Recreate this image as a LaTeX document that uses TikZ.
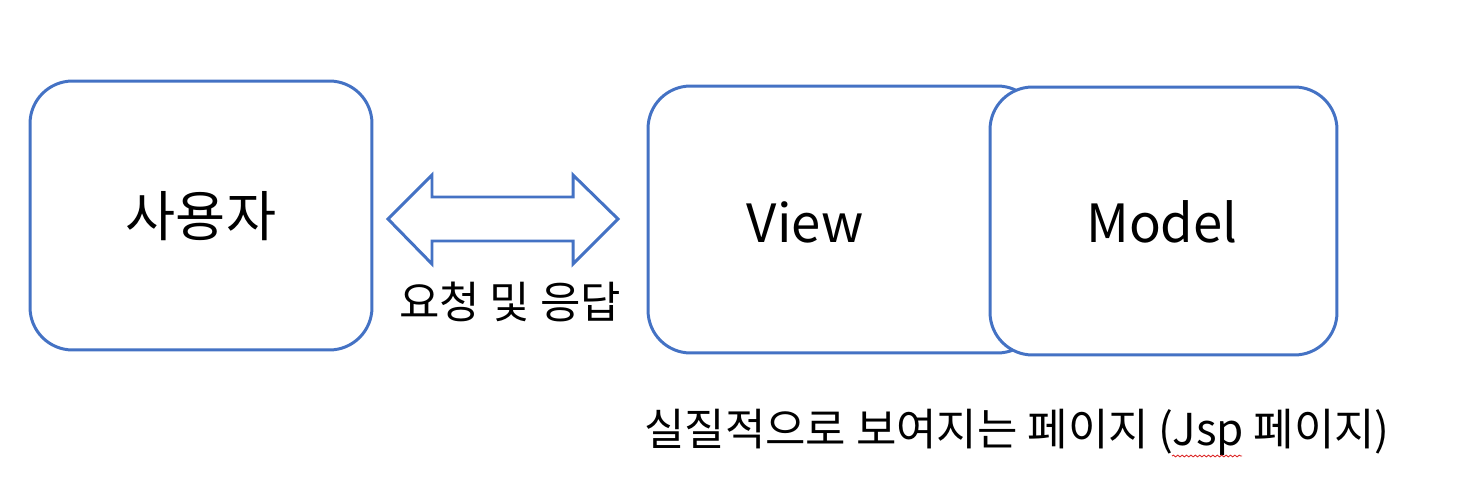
\documentclass[tikz,border=0pt]{standalone}
\usepackage{fontspec}
\setmainfont{Noto Sans CJK KR}
\usetikzlibrary{positioning,decorations.pathmorphing}
\definecolor{boxblue}{RGB}{68,114,196}
\definecolor{spellred}{RGB}{220,40,40}

\begin{document}
\begin{tikzpicture}[
  x=0.02cm, y=-0.02cm,
  block/.style={draw=boxblue, line width=1.7pt, fill=white, rounded corners=0.85cm, inner sep=0pt},
  label/.style={inner sep=0pt, font=\fontsize{30}{34}\selectfont},
  caption/.style={inner sep=0pt, font=\fontsize{25}{29}\selectfont},
  exchange/.style={draw=boxblue, line width=1.7pt, fill=white, line join=miter}
]
\useasboundingbox (0,0) rectangle (1460,480);
% user side
\node[block, minimum width=6.84cm, minimum height=5.38cm] (user) at (201,215.5) {};
\node[label, font=\fontsize{31}{35}\selectfont] (usertxt) at (201,216) {사용자};
% view and model
\node[block, minimum width=7.84cm, minimum height=5.34cm] (view) at (844,219.5) {};
\node[block, minimum width=6.94cm, minimum height=5.36cm] (model) at (1163.5,221) {};
\node[label] (viewtxt) at (805,222) {View};
\node[label] (modeltxt) at (1162,222) {Model};
% request / response
\draw[exchange] (388,219) -- (432,175) -- (432,197) -- (573,197) -- (573,175) -- (618,219)
  -- (573,264) -- (573,241) -- (432,241) -- (432,264) -- cycle;
\node[caption] (reqtxt) at (510,302) {요청 및 응답};
% page caption
\node[caption] (page) at (1017,432) {실질적으로 보여지는 페이지 (Jsp 페이지)};
\draw[spellred, line width=0.5pt, decorate, decoration={snake, amplitude=0.5pt, segment length=2.5pt}]
  (1172,456) -- (1242,456);
\end{tikzpicture}
\end{document}
